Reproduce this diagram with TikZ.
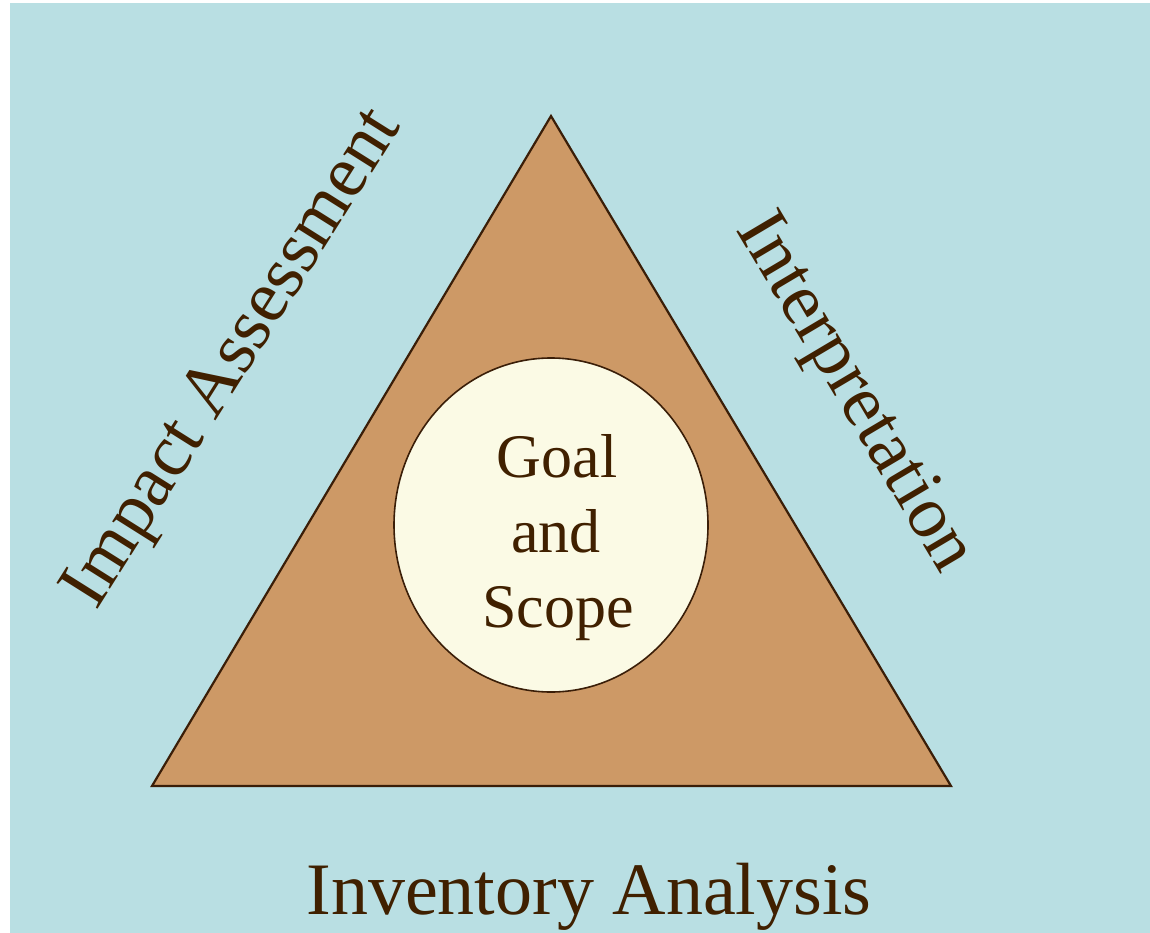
\documentclass[tikz,border=0pt]{standalone}
\usepackage{fontspec}
\setmainfont{Liberation Serif}
\usetikzlibrary{shapes.geometric}
\definecolor{bgblue}{HTML}{B9DFE3}
\definecolor{tan}{HTML}{CD9966}
\definecolor{cream}{HTML}{FBFAE5}
\definecolor{edgebrown}{HTML}{3A1E08}
\definecolor{textbrown}{HTML}{402000}
\tikzset{
  lbl/.style={text=textbrown, font=\fontsize{74}{80}\selectfont, inner sep=0pt},
  goaltext/.style={text=textbrown, font=\fontsize{62}{75}\selectfont, align=center, inner sep=0pt},
}
\begin{document}
\begin{tikzpicture}[x=1pt,y=-1pt]
\useasboundingbox (0,0) rectangle (1150,933);
\fill[bgblue] (10,3) rectangle (1150,933);
\coordinate (top) at (551,116);
\coordinate (bl) at (152,786);
\coordinate (br) at (951,786);
\filldraw[fill=tan, draw=edgebrown, line width=2.2pt, line join=miter] (top) -- (bl) -- (br) -- cycle;
\node[ellipse, draw=edgebrown, fill=cream, line width=1.6pt, minimum width=314pt, minimum height=334pt, inner sep=0pt] (gs) at (551,525) {};
\node[goaltext, anchor=base] (gstext) at (556,552) {and};
\node[goaltext, anchor=base] (goal) at (557,477) {Goal};
\node[goaltext, anchor=base] (scope) at (558,627) {Scope};
\node[lbl, anchor=base] (inv) at (589,914) {Inventory Analysis};
\node[lbl, rotate=57.8] (impact) at (235,360) {Impact Assessment};
\node[lbl, rotate=-59.3] (interp) at (853,394) {Interpretation};
\end{tikzpicture}
\end{document}
